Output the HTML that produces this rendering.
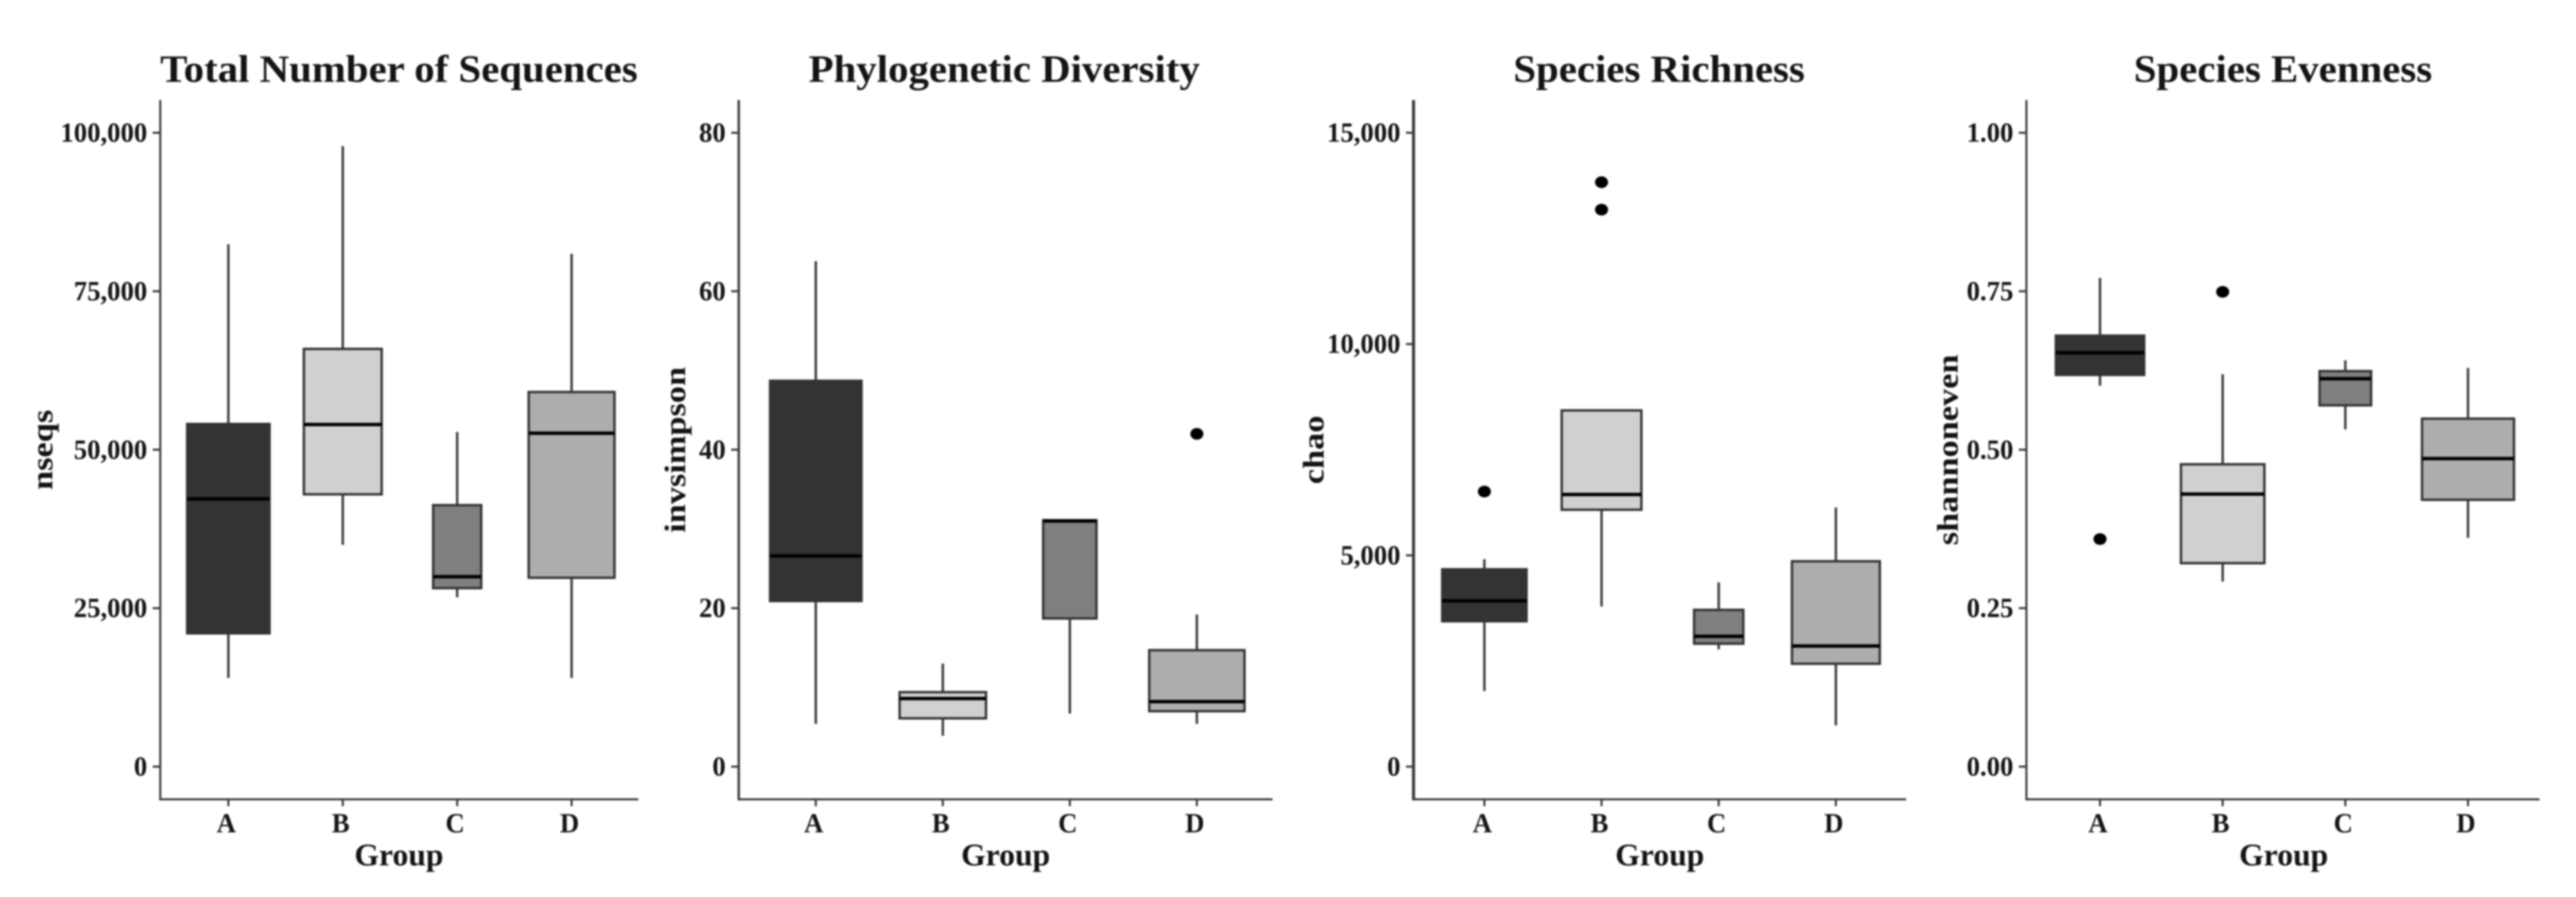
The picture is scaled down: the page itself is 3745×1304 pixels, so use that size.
<!DOCTYPE html>
<html lang="en">
<head>
<meta charset="utf-8">
<title>Alpha diversity box plots</title>
<style>
html,body{margin:0;padding:0;background:#fff;width:3745px;height:1304px;overflow:hidden}
svg{display:block;filter:blur(1.2px)}
text{font-family:"Liberation Serif",serif;font-weight:bold;fill:#141414}
</style>
</head>
<body>
<svg id="chart" xmlns="http://www.w3.org/2000/svg" width="3745" height="1304" viewBox="0 0 3745 1304"></svg>
<script>
const groups = ['A', 'B', 'C', 'D'];
const groupFills = ['#333333', '#d0d0d0', '#7f7f7f', '#adadad'];
const boxWidths = [0.72, 0.68, 0.42, 0.75];

const nseqsHigh = [82400, 97900, 52800, 80900];
const nseqsQ3 = [54060, 65900, 41250, 59100];
const nseqsMedian = [42240, 53970, 29960, 52600];
const nseqsQ1 = [21030, 42960, 28160, 29800];
const nseqsLow = [13990, 35000, 26700, 14000];
const nseqsOutliers = [[], [], [], []];
const nseqsTicks = [0, 25000, 50000, 75000, 100000];
const nseqsTickLabels = ['0', '25,000', '50,000', '75,000', '100,000'];

const invsimpsonHigh = [63.8, 13.0, 31.1, 19.2];
const invsimpsonQ3 = [48.7, 9.4, 31.1, 14.7];
const invsimpsonMedian = [26.6, 8.6, 31.0, 8.2];
const invsimpsonQ1 = [20.9, 6.1, 18.7, 7.0];
const invsimpsonLow = [5.4, 3.9, 6.7, 5.4];
const invsimpsonOutliers = [[], [], [], [42.0]];
const invsimpsonTicks = [0, 20, 40, 60, 80];
const invsimpsonTickLabels = ['0', '20', '40', '60', '80'];

const chaoHigh = [4910, 8430, 4360, 6130];
const chaoQ3 = [4670, 8430, 3710, 4860];
const chaoMedian = [3925, 6440, 3085, 2855];
const chaoQ1 = [3440, 6080, 2910, 2435];
const chaoLow = [1790, 3790, 2775, 975];
const chaoOutliers = [[6510], [13830, 13180], [], []];
const chaoTicks = [0, 5000, 10000, 15000];
const chaoTickLabels = ['0', '5,000', '10,000', '15,000'];

const evenHigh = [0.771, 0.619, 0.641, 0.629];
const evenQ3 = [0.680, 0.477, 0.624, 0.549];
const evenMedian = [0.653, 0.430, 0.612, 0.486];
const evenQ1 = [0.618, 0.321, 0.570, 0.421];
const evenLow = [0.601, 0.292, 0.532, 0.361];
const evenOutliers = [[0.359], [0.749], [], []];
const evenTicks = [0, 0.25, 0.5, 0.75, 1];
const evenTickLabels = ['0.00', '0.25', '0.50', '0.75', '1.00'];

const panels = [
  {key: 'nseqs', title: 'Total Number of Sequences', yTitle: 'nseqs', left: 233, right: 928, firstX: 332, lastX: 831, titleX: 580, groupX: 580, yTitleX: 76, yMax: 100000, axisW: 3,
   high: nseqsHigh, q3: nseqsQ3, med: nseqsMedian, q1: nseqsQ1, low: nseqsLow, out: nseqsOutliers, ticks: nseqsTicks, labels: nseqsTickLabels},
  {key: 'invsimpson', title: 'Phylogenetic Diversity', yTitle: 'invsimpson', left: 1074, right: 1850, firstX: 1186, lastX: 1740, titleX: 1460, groupX: 1462, yTitleX: 996, yMax: 80, axisW: 3.5,
   high: invsimpsonHigh, q3: invsimpsonQ3, med: invsimpsonMedian, q1: invsimpsonQ1, low: invsimpsonLow, out: invsimpsonOutliers, ticks: invsimpsonTicks, labels: invsimpsonTickLabels},
  {key: 'chao', title: 'Species Richness', yTitle: 'chao', left: 2055, right: 2771, firstX: 2158, lastX: 2669, titleX: 2412, groupX: 2413, yTitleX: 1924, yMax: 15000, axisW: 4.5,
   high: chaoHigh, q3: chaoQ3, med: chaoMedian, q1: chaoQ1, low: chaoLow, out: chaoOutliers, ticks: chaoTicks, labels: chaoTickLabels},
  {key: 'shannoneven', title: 'Species Evenness', yTitle: 'shannoneven', left: 2946, right: 3692, firstX: 3053, lastX: 3588, titleX: 3319, groupX: 3320, yTitleX: 2846, yMax: 1, axisW: 3,
   high: evenHigh, q3: evenQ3, med: evenMedian, q1: evenQ1, low: evenLow, out: evenOutliers, ticks: evenTicks, labels: evenTickLabels}
];

const NS = 'http://www.w3.org/2000/svg';
const svg = document.getElementById('chart');
const AXIS_TOP = 145.5, AXIS_BOTTOM = 1162, Y_ZERO = 1114.5, Y_SPAN = 921.5;

function mk(parent, tag, name, props) {
  const el = document.createElementNS(NS, tag);
  
  
  for (const k in props) el.setAttribute(k, props[k]);
  parent.appendChild(el);
  return el;
}
function label(parent, name, str, x, y, size, hscale, anchor, rotate) {
  const props = {x: x, y: y, 'font-size': size, 'text-anchor': anchor};
  if (rotate) props.transform = 'rotate(-90 ' + x + ' ' + y + ')';
  const el = mk(parent, 'text', name, props);
  el.textContent = str;
  el.setAttribute('textLength', (el.getComputedTextLength() * hscale).toFixed(1));
  el.setAttribute('lengthAdjust', 'spacingAndGlyphs');
  return el;
}

panels.forEach(function (p) {
  const g = mk(svg, 'g', p.key + '-panel', {});
  const band = (p.lastX - p.firstX) / (groups.length - 1);
  const xScale = function (i) { return p.firstX + band * i; };
  const yScale = function (v) { return Y_ZERO - v / p.yMax * Y_SPAN; };
  const ink = '#3a3a3a';

  label(g, p.key + '-title', p.title, p.titleX, 119, 56, 1.06, 'middle');

  groups.forEach(function (name, i) {
    const cx = xScale(i), hw = band * boxWidths[i] / 2, id = p.key + '-' + name.toLowerCase();
    mk(g, 'line', id + '-upper-whisker', {x1: cx, x2: cx, y1: yScale(p.q3[i]), y2: yScale(p.high[i]), stroke: ink, 'stroke-width': 3.5});
    mk(g, 'line', id + '-lower-whisker', {x1: cx, x2: cx, y1: yScale(p.q1[i]), y2: yScale(p.low[i]), stroke: ink, 'stroke-width': 3.5});
    mk(g, 'rect', id + '-box', {x: cx - hw, y: yScale(p.q3[i]), width: hw * 2, height: yScale(p.q1[i]) - yScale(p.q3[i]), fill: groupFills[i], stroke: '#333333', 'stroke-width': 3.5});
    mk(g, 'line', id + '-median', {x1: cx - hw, x2: cx + hw, y1: yScale(p.med[i]), y2: yScale(p.med[i]), stroke: '#000000', 'stroke-width': 5});
    p.out[i].forEach(function (v) {
      mk(g, 'ellipse', id + '-outlier', {cx: cx, cy: yScale(v), rx: 9.5, ry: 8.5, fill: '#000000'});
    });
    mk(g, 'line', p.key + '-x-tick-' + name.toLowerCase(), {x1: cx, x2: cx, y1: AXIS_BOTTOM, y2: AXIS_BOTTOM + 10, stroke: ink, 'stroke-width': 3});
    label(g, p.key + '-x-label-' + name.toLowerCase(), name, cx - 3, 1210, 40, 0.97, 'middle');
  });

  p.ticks.forEach(function (v, i) {
    const y = yScale(v);
    mk(g, 'line', p.key + '-y-tick', {x1: p.left - 11, x2: p.left, y1: y, y2: y, stroke: ink, 'stroke-width': 3});
    label(g, p.key + '-y-label', p.labels[i], p.left - 19, y + 13, 40, 0.97, 'end');
  });

  mk(g, 'line', p.key + '-y-axis', {x1: p.left, x2: p.left, y1: AXIS_TOP, y2: AXIS_BOTTOM + 1.5, stroke: ink, 'stroke-width': p.axisW});
  mk(g, 'line', p.key + '-x-axis', {x1: p.left, x2: p.right, y1: AXIS_BOTTOM, y2: AXIS_BOTTOM, stroke: ink, 'stroke-width': 3});

  label(g, p.key + '-x-axis-title', 'Group', p.groupX, 1258, 46, 1, 'middle');
  label(g, p.key + '-y-axis-title', p.yTitle, p.yTitleX, 654, 43, 1.16, 'middle', true);
});
</script>
</body>
</html>
